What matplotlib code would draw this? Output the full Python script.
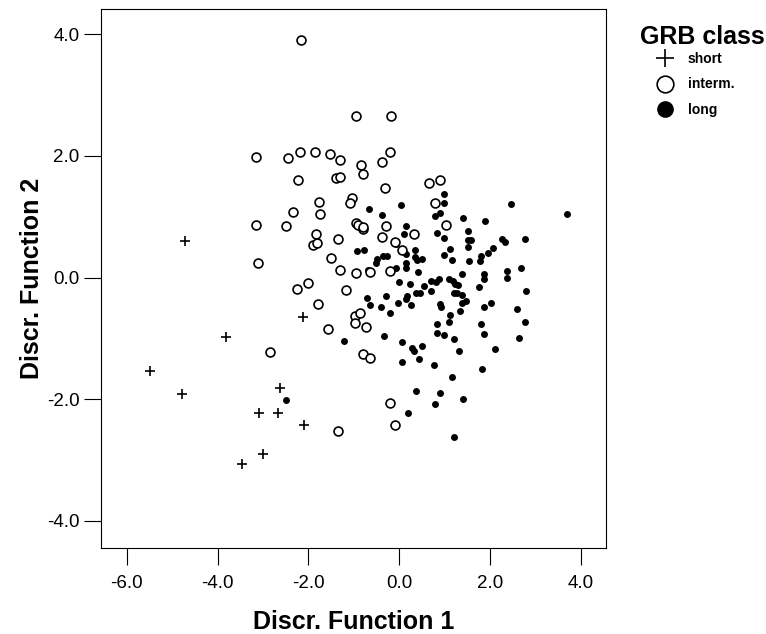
import matplotlib
matplotlib.use("Agg")
import matplotlib.pyplot as plt
from matplotlib.lines import Line2D

plt.rcParams["font.family"] = ["Liberation Sans", "DejaVu Sans"]
plt.rcParams["axes.unicode_minus"] = False

# ------------------------------------------------------------------
# Data
# ------------------------------------------------------------------
short_x = [-4.71, -3.82, -5.48, -4.78, -2.13, -2.63, -3.09, -2.66, -2.09, -2.99, -3.46]
short_y = [0.60, -0.97, -1.53, -1.91, -0.64, -1.81, -2.22, -2.22, -2.43, -2.90, -3.06]

interm_x = [
    -2.17, -0.96, -0.19, -3.15, -2.45, -2.18, -1.85, -1.52, -1.31, -0.21,
    -0.37, -0.84, -0.79, -2.23, -1.39, -1.31, -0.31, 0.66, 0.90, -1.77,
    -1.05, -1.09, -2.33, -1.75, 0.79, -3.16, -2.49, -0.96, -0.90, -0.79,
    -0.81, -0.29, 1.03, -1.84, -1.90, -1.81, -1.36, -0.38, -0.10, 0.33,
    0.05, -3.12, -1.50, -1.30, -0.95, -0.64, -0.21, -2.02, -2.25, -1.17,
    -1.80, -0.97, -0.87, -0.98, -0.73, -1.56, -2.85, -0.80, -0.65, -0.21,
    -0.10, -1.36,
]
interm_y = [
    3.90, 2.66, 2.65, 1.99, 1.96, 2.06, 2.06, 2.03, 1.93, 2.06,
    1.90, 1.85, 1.71, 1.60, 1.63, 1.65, 1.48, 1.55, 1.60, 1.25,
    1.31, 1.22, 1.08, 1.04, 1.22, 0.86, 0.85, 0.89, 0.86, 0.80,
    0.83, 0.85, 0.86, 0.71, 0.54, 0.57, 0.64, 0.66, 0.59, 0.72,
    0.46, 0.24, 0.32, 0.12, 0.08, 0.09, 0.11, -0.09, -0.18, -0.21,
    -0.44, -0.63, -0.58, -0.75, -0.81, -0.84, -1.23, -1.26, -1.32, -2.06,
    -2.43, -2.52,
]

long_x = [
    0.98, 0.99, 0.04, 2.45, 3.70, -0.67, -0.38, 0.79, 0.90, 1.41,
    1.88, 0.15, 0.10, 0.84, 0.98, 1.51, 1.52, 1.58, 1.52, 2.26,
    2.32, 2.76, 2.06, 1.96, 1.80, 1.77, 1.53, 1.12, 0.99, 1.15,
    -0.08, 0.35, 0.15, 0.34, 0.49, 0.40, 0.15, 0.15, 0.42, -0.08,
    -0.94, -0.77, -0.49, -0.52, -0.36, -0.26, -0.68, 1.37, 1.86, 1.87,
    2.36, 2.38, 2.68, 2.78, 1.75, -0.01, 0.24, 0.54, 0.70, 0.80,
    0.87, 1.10, 1.18, 1.23, 1.30, 0.70, 0.46, 0.36, 1.21, 1.28,
    1.38, 1.46, 1.39, 0.17, 0.14, -0.03, 0.26, -0.29, -0.70, -0.65,
    -0.40, -0.20, 0.90, 0.91, 1.34, 1.86, 2.02, 2.59, 2.76, 1.11,
    1.09, 0.83, 1.79, 0.82, 0.98, 1.21, 1.87, 2.63, -0.34, -1.22,
    0.07, 0.27, 0.32, 0.51, 1.32, 2.11, 0.07, 0.44, 0.77, 1.17,
    1.82, 0.36, 0.89, 1.41, 0.78, 0.19, 1.20, -2.49,
]
long_y = [
    1.37, 1.23, 1.19, 1.21, 1.05, 1.12, 1.03, 1.01, 1.06, 0.98,
    0.93, 0.84, 0.71, 0.73, 0.65, 0.76, 0.61, 0.61, 0.51, 0.63,
    0.58, 0.63, 0.49, 0.40, 0.35, 0.28, 0.28, 0.47, 0.37, 0.29,
    0.55, 0.45, 0.38, 0.34, 0.31, 0.29, 0.24, 0.15, 0.09, 0.15,
    0.43, 0.45, 0.31, 0.24, 0.36, 0.36, 0.12, 0.06, 0.06, -0.03,
    0.11, -0.01, 0.16, -0.22, -0.16, -0.07, -0.11, -0.14, -0.05, -0.08,
    -0.02, -0.02, -0.06, -0.10, -0.13, -0.22, -0.25, -0.25, -0.25, -0.26,
    -0.29, -0.38, -0.41, -0.30, -0.36, -0.41, -0.45, -0.31, -0.34, -0.45,
    -0.48, -0.58, -0.44, -0.49, -0.55, -0.48, -0.42, -0.52, -0.73, -0.62,
    -0.73, -0.77, -0.76, -0.91, -0.95, -1.01, -0.93, -0.99, -0.96, -1.05,
    -1.06, -1.15, -1.21, -1.12, -1.20, -1.18, -1.38, -1.34, -1.43, -1.64,
    -1.51, -1.86, -1.89, -2.00, -2.08, -2.22, -2.62, -2.02,
]

ticks_x = [-6.0, -4.0, -2.0, 0.0, 2.0, 4.0]
ticks_y = [-4.0, -2.0, 0.0, 2.0, 4.0]
class_labels = ["short", "interm.", "long"]

# ------------------------------------------------------------------
# Plot
# ------------------------------------------------------------------
fig = plt.figure(figsize=(7.66, 6.34), dpi=100)
ax = fig.add_axes([0.1319, 0.1361, 0.6592, 0.8502])

ax.plot(long_x, long_y, ls="none", marker="o", ms=5.0, mew=0,
        color="black")
ax.plot(interm_x, interm_y, ls="none", marker="o", ms=6.4, mew=1.2,
        mfc="white", mec="black")
ax.plot(short_x, short_y, ls="none", marker="+", ms=6.8, mew=1.2,
        color="black")

ax.set_xlim(-6.566, 4.55)
ax.set_ylim(-4.44, 4.42)
ax.set_xticks(ticks_x)
ax.set_yticks(ticks_y)
ax.set_xticklabels([f"{t:.1f}" for t in ticks_x])
ax.set_yticklabels([f"{t:.1f}" for t in ticks_y])
ax.tick_params(axis="both", direction="out", length=12.5, width=0.8,
               labelsize=13.5)
ax.tick_params(axis="x", pad=7)
ax.tick_params(axis="y", pad=3)
for sp in ax.spines.values():
    sp.set_linewidth(0.8)

ax.set_xlabel("Discr. Function 1", fontsize=18, fontweight="bold", labelpad=13)
ax.set_ylabel("Discr. Function 2", fontsize=18, fontweight="bold", labelpad=2)

# Legend (title drawn separately so it can sit where the original has it)
fig.text(702 / 766, 1 - 44 / 634, "GRB class", ha="center", va="baseline",
         fontsize=18, fontweight="bold")
handles = [
    Line2D([], [], ls="none", marker="+", ms=13, mew=1.2, color="black"),
    Line2D([], [], ls="none", marker="o", ms=12, mew=1.2, mfc="white", mec="black"),
    Line2D([], [], ls="none", marker="o", ms=12, mew=0, color="black"),
]
leg = ax.legend(handles, class_labels, frameon=False,
                loc="upper left", bbox_to_anchor=(658 / 766, 1 - 52 / 634),
                bbox_transform=fig.transFigure, handlelength=1.0,
                handletextpad=1.15, labelspacing=0.82, borderpad=0,
                borderaxespad=0, prop={"size": 10, "weight": "bold"})

fig.savefig("out.png", dpi=100)
